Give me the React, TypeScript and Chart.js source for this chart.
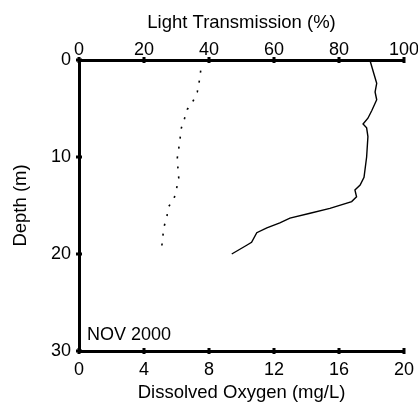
import React, { useEffect, useRef } from "react";
import { Chart, registerables } from "chart.js";

Chart.register(...registerables);

// Light transmission profile (solid line, top axis)
const lightDepth = [0, 1.5, 2.4, 3.3, 4.1, 5.2, 6.0, 6.6, 7.0, 7.9, 10.0, 12.1, 12.9, 13.4, 14.1, 14.6, 15.3, 15.8, 16.3, 16.8, 17.3, 17.8, 18.8, 19.1, 20.0];
const lightTrans = [89.5, 90.8, 91.6, 91.1, 91.6, 90.1, 88.9, 87.4, 88.5, 88.9, 88.5, 87.7, 86.5, 84.9, 85.4, 83.9, 77.2, 71.1, 64.9, 61.8, 57.8, 54.7, 53.1, 51.6, 47.0];

// Dissolved oxygen profile (dotted line, bottom axis)
const doDepth = [1.1, 2.2, 3.3, 4.2, 5.1, 6.0, 7.0, 8.1, 9.1, 10.1, 11.2, 12.2, 13.2, 14.3, 15.1, 16.2, 17.2, 18.3, 19.3];
const doValues = [7.49, 7.4, 7.28, 7.03, 6.66, 6.5, 6.3, 6.22, 6.14, 6.05, 6.09, 6.14, 6.01, 5.85, 5.52, 5.4, 5.23, 5.15, 5.09];

const topTitle = "Light Transmission (%)";
const bottomTitle = "Dissolved Oxygen (mg/L)";
const leftTitle = "Depth (m)";
const panelLabel = "NOV 2000";

const FONT = '"Liberation Sans", Arial, Helvetica, sans-serif';

export default function App() {
  const ref = useRef<HTMLCanvasElement | null>(null);

  useEffect(() => {
    if (!ref.current) return;

    const tickDots = {
      id: "tickDots",
      afterDraw(chart: any) {
        const ctx = chart.ctx;
        const area = chart.chartArea;
        ctx.save();
        ctx.fillStyle = "#000";
        ["x", "xTop"].forEach((id) => {
          const s = chart.scales[id];
          const yy = id === "x" ? area.bottom : area.top;
          s.ticks.forEach((_t: any, i: number) => {
            const px = s.getPixelForTick(i);
            ctx.fillRect(px - 1.5, yy - 3, 3, 6);
          });
        });
        const ys = chart.scales.y;
        ys.ticks.forEach((_t: any, i: number) => {
          const py = ys.getPixelForTick(i);
          ctx.fillRect(area.left - 3, py - 1.5, 6, 3);
        });
        ctx.font = `18px ${FONT}`;
        ctx.textBaseline = "alphabetic";
        ctx.textAlign = "left";
        ctx.fillText(panelLabel, area.left + 8, area.bottom - 11);
        ctx.restore();
      },
    };

    const tickFont = { size: 18, family: FONT };
    const titleFont = { size: 18.5, family: FONT };

    const chart = new Chart(ref.current, {
      type: "scatter",
      data: {
        datasets: [
          {
            label: "Light Transmission",
            data: lightTrans.map((v, i) => ({ x: v, y: lightDepth[i] })),
            xAxisID: "xTop",
            yAxisID: "y",
            showLine: true,
            borderColor: "#000",
            borderWidth: 1.4,
            pointRadius: 0,
            tension: 0,
          },
          {
            label: "Dissolved Oxygen",
            data: doValues.map((v, i) => ({ x: v, y: doDepth[i] })),
            xAxisID: "x",
            yAxisID: "y",
            showLine: true,
            borderColor: "#000",
            borderWidth: 1.6,
            borderDash: [2, 8],
            pointRadius: 0,
            tension: 0,
          },
        ],
      },
      options: {
        animation: false,
        responsive: false,
        layout: { padding: { left: 0, right: 14, top: 0, bottom: 0 } },
        plugins: { legend: { display: false }, tooltip: { enabled: false } },
        scales: {
          x: {
            type: "linear",
            position: "bottom",
            min: 0,
            max: 20,
            grid: { display: false },
            border: { display: true, width: 3, color: "#000" },
            ticks: { stepSize: 4, color: "#000", font: tickFont, padding: 0, maxRotation: 0 },
            title: { display: true, text: bottomTitle, color: "#000", font: titleFont, padding: { top: 0, bottom: -2 } },
            afterFit(s: any) {
              s.height = 51;
              s.paddingLeft = 0;
              s.paddingRight = 0;
            },
          },
          xTop: {
            type: "linear",
            position: "top",
            min: 0,
            max: 100,
            grid: { display: false },
            border: { display: true, width: 3, color: "#000" },
            ticks: { stepSize: 20, color: "#000", font: tickFont, padding: -9, maxRotation: 0 },
            title: { display: true, text: topTitle, color: "#000", font: titleFont, padding: { top: 12, bottom: 0 } },
            afterFit(s: any) {
              s.height = 60;
              s.paddingLeft = 0;
              s.paddingRight = 0;
            },
          },
          y: {
            type: "linear",
            position: "left",
            reverse: true,
            min: 0,
            max: 30,
            grid: { display: false },
            border: { display: true, width: 3, color: "#000" },
            ticks: { stepSize: 10, color: "#000", font: tickFont, padding: 0 },
            title: { display: true, text: leftTitle, color: "#000", font: titleFont, padding: { top: 10, bottom: 0 } },
            afterFit(s: any) {
              s.width = 79;
              s.paddingTop = 0;
              s.paddingBottom = 0;
            },
          },
        },
      },
      plugins: [tickDots],
    } as any);

    return () => chart.destroy();
  }, []);

  return (
    <div style={{ position: "fixed", left: 0, top: 0, width: 418, height: 402, background: "#fff" }}>
      <canvas ref={ref} width={418} height={402} style={{ display: "block" }} />
    </div>
  );
}
